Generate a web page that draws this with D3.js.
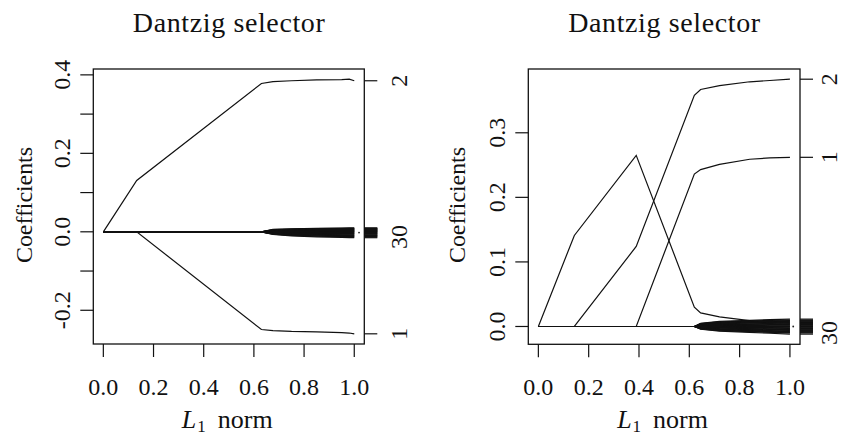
<!DOCTYPE html>
<html><head><meta charset="utf-8">
<script src="https://cdn.jsdelivr.net/npm/d3@7"></script>
<style>
body{margin:0;background:#fff}
svg{display:block}
</style>
</head><body>
<svg id="c" width="841" height="436"></svg>
<script>
// ---------------- data ----------------
const titleText = "Dantzig selector";
const yAxisTitle = "Coefficients";
const xTicks = [0, 0.2, 0.4, 0.6, 0.8, 1.0];
const xTickLabels = ["0.0", "0.2", "0.4", "0.6", "0.8", "1.0"];

// Left panel
const knotsL = [0, 0.133, 0.63, 0.676, 0.75, 0.85, 0.95, 0.98, 1.0];
const var2L  = [0, 0.131, 0.378, 0.383, 0.385, 0.387, 0.388, 0.389, 0.385];
const var1L  = [0, 0, -0.249, -0.252, -0.254, -0.255, -0.257, -0.258, -0.260];
const noiseL = [
  [0,0,0, 0.0060, 0.0078, 0.0088, 0.0096, 0.0098, 0.0100],
  [0,0,0, 0.0055, 0.0070, 0.0080, 0.0086, 0.0089, 0.0090],
  [0,0,0, 0.0050, 0.0062, 0.0070, 0.0077, 0.0079, 0.0080],
  [0,0,0, 0.0040, 0.0055, 0.0062, 0.0067, 0.0069, 0.0070],
  [0,0,0, 0.0035, 0.0047, 0.0053, 0.0058, 0.0059, 0.0060],
  [0,0,0, 0.0030, 0.0039, 0.0044, 0.0048, 0.0049, 0.0050],
  [0,0,0, 0.0024, 0.0031, 0.0035, 0.0038, 0.0039, 0.0040],
  [0,0,0, 0.0018, 0.0023, 0.0026, 0.0029, 0.0030, 0.0030],
  [0,0,0, 0.0012, 0.0016, 0.0018, 0.0019, 0.0020, 0.0020],
  [0,0,0, 0.0006, 0.0008, 0.0009, 0.0010, 0.0010, 0.0010],
  [0,0,0, 0.0002, 0.0001, 0.0000, 0.0001, 0.0000, 0.0000],
  [0,0,0, -0.0005, -0.0007, -0.0008, -0.0009, -0.0010, -0.0010],
  [0,0,0, -0.0010, -0.0014, -0.0017, -0.0019, -0.0020, -0.0020],
  [0,0,0, -0.0020, -0.0029, -0.0034, -0.0038, -0.0039, -0.0040],
  [0,0,0, -0.0024, -0.0036, -0.0043, -0.0048, -0.0049, -0.0050],
  [0,0,0, -0.0029, -0.0043, -0.0051, -0.0057, -0.0059, -0.0060],
  [0,0,0, -0.0038, -0.0057, -0.0068, -0.0076, -0.0078, -0.0080],
  [0,0,0, -0.0042, -0.0064, -0.0077, -0.0086, -0.0088, -0.0090],
  [0,0,0, -0.0047, -0.0071, -0.0085, -0.0095, -0.0098, -0.0100],
  [0,0,0, -0.0055, -0.0085, -0.0102, -0.0114, -0.0117, -0.0120],
  [0,0,0, -0.0060, -0.0092, -0.0111, -0.0124, -0.0127, -0.0130],
  [0,0,0, -0.0066, -0.0104, -0.0128, -0.0143, -0.0147, -0.0150]
];
const var30IndexL = 20;
const yTicksL = [-0.2, -0.1, 0, 0.1, 0.2, 0.3, 0.4];
const yTickLabelsL = ["-0.2", "", "0.0", "", "0.2", "", "0.4"];
const dotL = [1.019, -0.002];

// Right panel
const knotsR = [0, 0.143, 0.389, 0.62, 0.645, 0.72, 0.84, 0.92, 1.0];
const varAR  = [0, 0.141, 0.265, 0.030, 0.021, 0.015, 0.009, 0.007, 0.005];
const var2R  = [0, 0, 0.124, 0.358, 0.367, 0.373, 0.379, 0.381, 0.383];
const var1R  = [0, 0, 0, 0.236, 0.243, 0.251, 0.259, 0.261, 0.262];
const noiseR = [
  [0,0,0,0, 0.0050, 0.0080, 0.0096, 0.0106, 0.0114],
  [0,0,0,0, 0.0044, 0.0070, 0.0084, 0.0093, 0.0100],
  [0,0,0,0, 0.0040, 0.0063, 0.0076, 0.0084, 0.0090],
  [0,0,0,0, 0.0035, 0.0056, 0.0067, 0.0074, 0.0080],
  [0,0,0,0, 0.0031, 0.0049, 0.0059, 0.0065, 0.0070],
  [0,0,0,0, 0.0026, 0.0042, 0.0050, 0.0056, 0.0060],
  [0,0,0,0, 0.0022, 0.0035, 0.0042, 0.0047, 0.0050],
  [0,0,0,0, 0.0018, 0.0028, 0.0034, 0.0037, 0.0040],
  [0,0,0,0, 0.0013, 0.0021, 0.0025, 0.0028, 0.0030],
  [0,0,0,0, 0.0009, 0.0014, 0.0017, 0.0019, 0.0020],
  [0,0,0,0, 0.0004, 0.0007, 0.0008, 0.0009, 0.0010],
  [0,0,0,0, 0.0001, 0.0000, 0.0001, 0.0000, 0.0000],
  [0,0,0,0, -0.0004, -0.0007, -0.0008, -0.0009, -0.0010],
  [0,0,0,0, -0.0008, -0.0013, -0.0016, -0.0018, -0.0020],
  [0,0,0,0, -0.0011, -0.0020, -0.0024, -0.0027, -0.0030],
  [0,0,0,0, -0.0015, -0.0026, -0.0032, -0.0036, -0.0040],
  [0,0,0,0, -0.0018, -0.0032, -0.0040, -0.0045, -0.0050],
  [0,0,0,0, -0.0022, -0.0039, -0.0048, -0.0054, -0.0060],
  [0,0,0,0, -0.0025, -0.0045, -0.0056, -0.0063, -0.0070],
  [0,0,0,0, -0.0029, -0.0051, -0.0064, -0.0072, -0.0080],
  [0,0,0,0, -0.0032, -0.0058, -0.0072, -0.0081, -0.0090],
  [0,0,0,0, -0.0036, -0.0064, -0.0080, -0.0090, -0.0100],
  [0,0,0,0, -0.0040, -0.0072, -0.0092, -0.0105, -0.0118]
];
const var30IndexR = 21;
const yTicksR = [0, 0.1, 0.2, 0.3];
const yTickLabelsR = ["0.0", "0.1", "0.2", "0.3"];
const dotR = [1.013, 0];

// ---------------- drawing ----------------
const FONT = "'Liberation Serif', 'DejaVu Serif', Tinos, 'Times New Roman', Times, serif";
const svg = d3.select("#c");
svg.attr("font-family", FONT).style("font-family", FONT).attr("fill", "#111");

function drawPanel(cfg) {
  const g = svg.append("g");
  const allSeries = cfg.noise.concat(cfg.main);
  const vals = allSeries.flat();
  let lo = d3.min(vals), hi = d3.max(vals);
  const pad = (hi - lo) * 0.04;
  const x = d3.scaleLinear().domain([-0.04, 1.04]).range([cfg.left, cfg.right]);
  const y = d3.scaleLinear().domain([lo - pad, hi + pad]).range([cfg.bottom, cfg.top]);
  const tick = 13;

  const line = d3.line().x(d => x(d[0])).y(d => y(d[1]));
  const toPts = vs => cfg.knots.map((k, i) => [k, vs[i]]);

  g.selectAll("path.noise").data(cfg.noise).join("path")
    .attr("d", d => line(toPts(d)))
    .attr("fill", "none").attr("stroke", "#111").attr("stroke-width", 1.2);
  g.selectAll("path.main").data(cfg.main).join("path")
    .attr("d", d => line(toPts(d)))
    .attr("fill", "none").attr("stroke", "#111").attr("stroke-width", 1.2);

  g.append("circle").attr("cx", x(cfg.dot[0])).attr("cy", y(cfg.dot[1])).attr("r", 0.9).attr("fill", "#222");

  g.append("rect").attr("x", cfg.left).attr("y", cfg.top)
    .attr("width", cfg.right - cfg.left).attr("height", cfg.bottom - cfg.top)
    .attr("fill", "none").attr("stroke", "#111").attr("stroke-width", 1.3);

  const txt = (sel) => sel.attr("font-family", FONT).style("font-family", FONT).attr("fill", "#111");

  xTicks.forEach((t, i) => {
    g.append("line").attr("x1", x(t)).attr("x2", x(t)).attr("y1", cfg.bottom).attr("y2", cfg.bottom + tick)
      .attr("stroke", "#111").attr("stroke-width", 1.2);
    txt(g.append("text")).attr("x", x(t)).attr("y", 395).attr("text-anchor", "middle")
      .attr("font-size", 24).text(xTickLabels[i]);
  });

  cfg.yTicks.forEach((t, i) => {
    g.append("line").attr("x1", cfg.left - tick).attr("x2", cfg.left).attr("y1", y(t)).attr("y2", y(t))
      .attr("stroke", "#111").attr("stroke-width", 1.2);
    if (cfg.yLabels[i]) {
      const bx = cfg.left - 23.3;
      txt(g.append("text")).attr("x", bx).attr("y", y(t)).attr("text-anchor", "middle")
        .attr("transform", `rotate(-90,${bx},${y(t)})`)
        .attr("font-size", 24).text(cfg.yLabels[i]);
    }
  });

  allSeries.forEach(s => {
    const v = s[s.length - 1];
    g.append("line").attr("x1", cfg.right).attr("x2", cfg.right + tick).attr("y1", y(v)).attr("y2", y(v))
      .attr("stroke", "#111").attr("stroke-width", 1.2);
  });
  cfg.rightLabels.forEach(([lab, s]) => {
    const v = s[s.length - 1];
    txt(g.append("text")).attr("x", cfg.rlx).attr("y", y(v)).attr("text-anchor", "middle")
      .attr("transform", `rotate(-90,${cfg.rlx},${y(v)})`)
      .attr("font-size", 24).text(lab);
  });

  const cx = (cfg.left + cfg.right) / 2;
  txt(g.append("text")).attr("x", cx).attr("y", 32).attr("text-anchor", "middle")
    .attr("font-size", 28).attr("textLength", 192).attr("lengthAdjust", "spacing").text(titleText);

  txt(g.append("text")).attr("x", cfg.ylx).attr("y", 205).attr("text-anchor", "middle")
    .attr("transform", `rotate(-90,${cfg.ylx},205)`)
    .attr("font-size", 24).attr("textLength", 116).attr("lengthAdjust", "spacing").text(yAxisTitle);

  const xt = txt(g.append("text")).attr("x", cx - 47).attr("y", 428).attr("font-size", 26);
  xt.append("tspan").attr("font-style", "italic").text("L");
  xt.append("tspan").attr("font-size", 17).attr("dy", 4).attr("dx", 1).text("1");
  xt.append("tspan").attr("dy", -4).attr("dx", 12).text("norm");
}

drawPanel({
  left: 93.3, right: 364.3, top: 69, bottom: 344,
  knots: knotsL, main: [var2L, var1L], noise: noiseL,
  yTicks: yTicksL, yLabels: yTickLabelsL, dot: dotL,
  rightLabels: [["2", var2L], ["30", noiseL[var30IndexL]], ["1", var1L]],
  rlx: 406.7, ylx: 31.7
});
drawPanel({
  left: 528.3, right: 800, top: 69, bottom: 344.3,
  knots: knotsR, main: [varAR, var2R, var1R], noise: noiseR,
  yTicks: yTicksR, yLabels: yTickLabelsR, dot: dotR,
  rightLabels: [["2", var2R], ["1", var1R], ["30", noiseR[var30IndexR]]],
  rlx: 836.7, ylx: 465
});
</script>
</body></html>
